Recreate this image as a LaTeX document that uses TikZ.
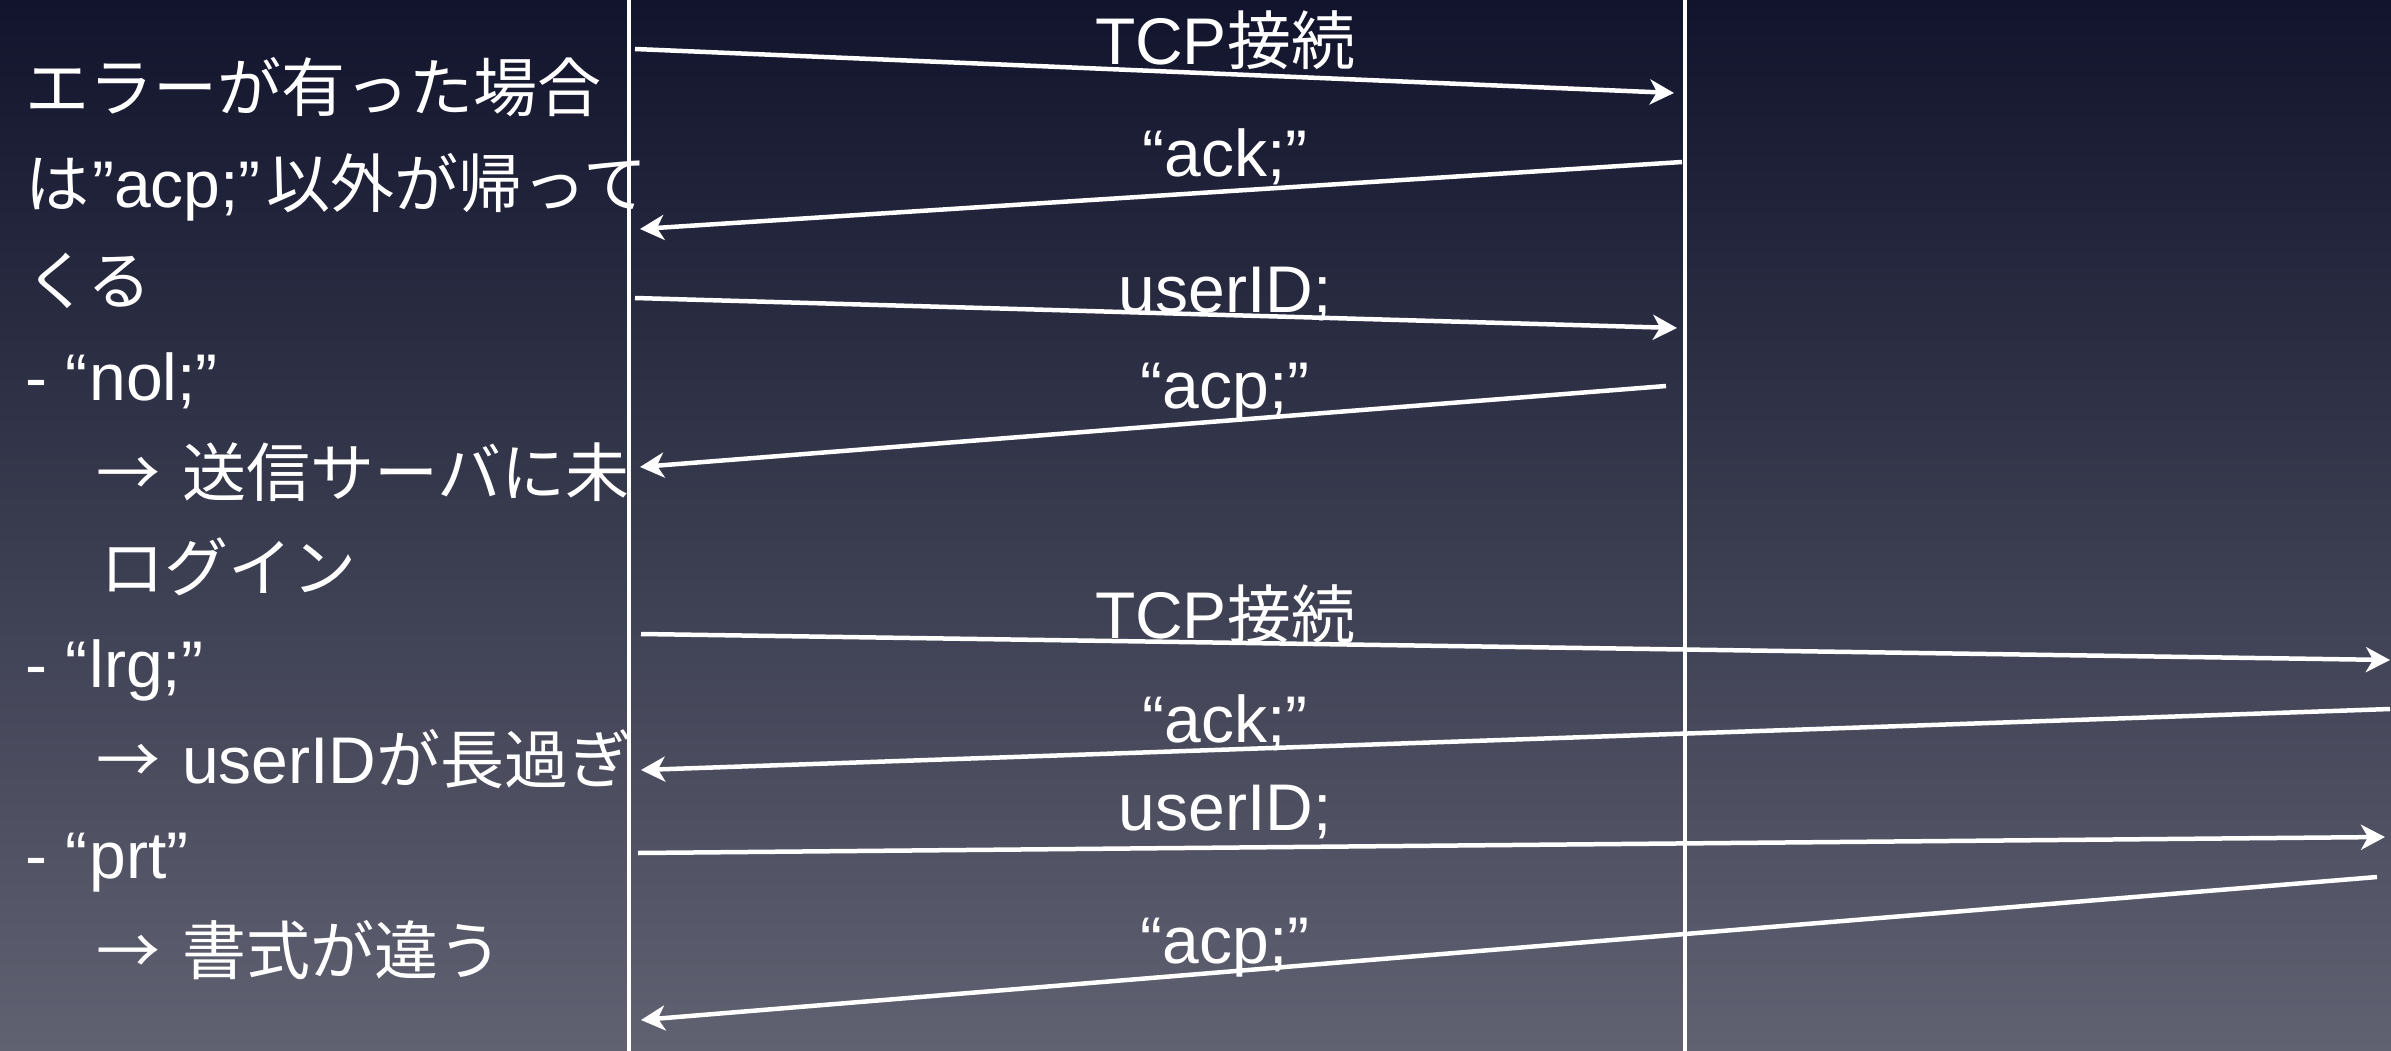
\documentclass[tikz,border=0pt]{standalone}
\usepackage{fontspec}
\setmainfont{Noto Sans CJK JP}
\newfontfamily\latf{Liberation Sans}
\newcommand{\lat}{\latf\fontsize{66pt}{66pt}\selectfont}
\usetikzlibrary{arrows.meta}
\definecolor{bgtop}{RGB}{17,20,44}
\definecolor{bgbot}{RGB}{96,97,113}
\tikzset{
  txt/.style={text=white, inner sep=0pt, anchor=base west, font=\fontsize{64pt}{64pt}\selectfont},
  lbl/.style={text=white, inner sep=0pt, anchor=base, font=\lat},
  life/.style={white, line width=3.5pt},
  msg/.style={white, line width=4.5pt, -{Stealth[length=24pt,width=25pt,inset=7pt]}}
}
\newcommand{\gapx}{\hspace{22pt}}
\begin{document}
\begin{tikzpicture}[x=1pt,y=-1pt]
\useasboundingbox (0,0) rectangle (2391,1051);
\fill[top color=bgtop, bottom color=bgbot] (0,0) rectangle (2391,1051);

% lifelines
\coordinate (A0) at (629,0);
\coordinate (A1) at (629,1051);
\coordinate (B0) at (1685,0);
\coordinate (B1) at (1685,1051);
\draw[life] (A0) -- (A1);
\draw[life] (B0) -- (B1);

% left text
\node[txt] (l1) at (25,112) {エラーが有った場合};
\node[txt] (l2) at (25,208) {は{\lat\hspace{3pt}”acp;”\hspace{6pt}}以外が帰って};
\node[txt] (l3) at (25,304) {くる};
\node[txt] (l4) at (25,400) {{\lat - “\hspace{2pt}nol;”}};
\node[txt] (l5) at (96,496) {→\gapx 送信サーバに未};
\node[txt] (l6) at (100,591) {ログイン};
\node[txt] (l7) at (25,687) {{\lat - “\hspace{2pt}lrg;”}};
\node[txt] (l8) at (96,783) {→\gapx{\lat userID}が長過ぎ};
\node[txt] (l9) at (25,878) {{\lat - “\hspace{2pt}prt”}};
\node[txt] (l10) at (96,974) {→\gapx 書式が違う};

% message end points
\coordinate (m1s) at (635,49);   \coordinate (m1e) at (1674,93);
\coordinate (m2s) at (1682,162); \coordinate (m2e) at (640,229);
\coordinate (m3s) at (635,298);  \coordinate (m3e) at (1677,328);
\coordinate (m4s) at (1666,386); \coordinate (m4e) at (640,467);
\coordinate (m5s) at (641,634);  \coordinate (m5e) at (2390,660);
\coordinate (m6s) at (2390,709); \coordinate (m6e) at (641,770);
\coordinate (m7s) at (638,853);  \coordinate (m7e) at (2385,837);
\coordinate (m8s) at (2377,877); \coordinate (m8e) at (641,1020);

\draw[msg] (m1s) -- (m1e);
\draw[msg] (m2s) -- (m2e);
\draw[msg] (m3s) -- (m3e);
\draw[msg] (m4s) -- (m4e);
\draw[msg] (m5s) -- (m5e);
\draw[msg] (m6s) -- (m6e);
\draw[msg] (m7s) -- (m7e);
\draw[msg] (m8s) -- (m8e);

% message labels
\node[lbl] (t1) at (1225,65) {TCP\fontspec{Noto Sans CJK JP}\fontsize{64pt}{64pt}\selectfont 接続};
\node[lbl] (t2) at (1225,177) {“ack;”};
\node[lbl] (t3) at (1225,312) {userID;};
\node[lbl] (t4) at (1225,408) {“acp;”};
\node[lbl] (t5) at (1225,638) {TCP\fontspec{Noto Sans CJK JP}\fontsize{64pt}{64pt}\selectfont 接続};
\node[lbl] (t6) at (1225,742) {“ack;”};
\node[lbl] (t7) at (1225,830) {userID;};
\node[lbl] (t8) at (1225,963) {“acp;”};
\end{tikzpicture}
\end{document}
